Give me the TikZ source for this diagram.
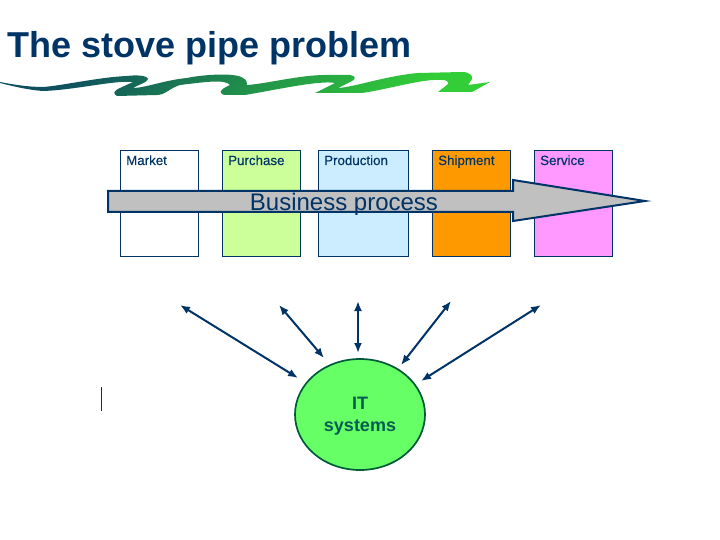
\documentclass[tikz,border=0pt]{standalone}
\usepackage{fontspec}
\setmainfont{Liberation Sans}
\newfontfamily\labelfont{Liberation Sans}[FakeBold=0.35]
\definecolor{navy}{RGB}{0,51,102}
\definecolor{grey}{RGB}{192,192,192}
\definecolor{swooshdark}{RGB}{15,80,95}
\definecolor{swooshlight}{RGB}{50,205,55}
\usetikzlibrary{arrows.meta, shapes.geometric}
\tikzset{
  stepbox/.style={draw=navy, line width=1pt, anchor=north west, minimum width=78pt, minimum height=106pt, inner sep=0pt},
  boxlabel/.style={navy, font=\labelfont\fontsize{13.33}{15}\selectfont, anchor=base west, inner sep=0pt},
  link/.style={navy, line width=2pt, {Latex[length=10pt,width=8pt]}-{Latex[length=10pt,width=8pt]}}
}
\begin{document}
\begin{tikzpicture}[x=1pt, y=-1pt]
\useasboundingbox (0, 0) rectangle (720, 540);
\node[navy, font=\bfseries\fontsize{36}{40}\selectfont, anchor=base west, inner sep=0pt] (title) at (7, 58) {The stove pipe problem};
%Swoosh
\shade[top color=swooshdark, bottom color=swooshlight, shading angle=45] (0, 82) .. controls (15, 85) and (30, 87) .. (43, 87) .. controls (60, 86) and (100, 77) .. (127, 76) .. controls (135, 75) and (147, 75) .. (148, 79) .. controls (148, 82) and (138, 85) .. (133, 88) .. controls (145, 88) and (165, 80) .. (187, 78) .. controls (200, 75) and (235, 72) .. (243, 78) .. controls (247, 80) and (247, 83) .. (247, 85) .. controls (265, 84) and (300, 75) .. (325, 75) -- (350, 75) .. controls (356, 76) and (356, 79) .. (352, 81) -- (338, 88) .. controls (355, 87) and (385, 76) .. (418, 73) -- (462, 72) .. controls (470, 72) and (473, 76) .. (472, 79) -- (468, 85) -- (490, 82) -- (472, 92) -- (438, 92) -- (448, 84) .. controls (449, 81) and (445, 80) .. (442, 80) .. controls (425, 78) and (385, 90) .. (362, 93) -- (315, 93) -- (335, 83) .. controls (320, 80) and (275, 90) .. (245, 95) -- (227, 95) .. controls (218, 95) and (218, 90) .. (230, 85) .. controls (225, 79) and (205, 82) .. (180, 85) .. controls (170, 88) and (165, 95) .. (157, 95) -- (117, 96) .. controls (113, 94) and (113, 91) .. (120, 88) -- (133, 82) .. controls (115, 80) and (75, 90) .. (43, 91) .. controls (28, 90) and (12, 86) .. (0, 83) -- cycle;
%Boxes
\node[stepbox] (market) at (120, 150) {};
\node[stepbox, fill={rgb,255:red,204;green,255;blue,153}] (purchase) at (222, 150) {};
\node[stepbox, fill={rgb,255:red,204;green,236;blue,255}, minimum width=90pt] (production) at (318, 150) {};
\node[stepbox, fill={rgb,255:red,255;green,153;blue,0}] (shipment) at (432, 150) {};
\node[stepbox, fill={rgb,255:red,255;green,153;blue,255}] (service) at (534, 150) {};
\node[boxlabel] at (126, 165) {Market};
\node[boxlabel] at (228, 165) {Purchase};
\node[boxlabel] at (324, 165) {Production};
\node[boxlabel] at (438, 165) {Shipment};
\node[boxlabel] at (540, 165) {Service};
%Arrow
\filldraw[fill=grey, draw=navy, line width=2pt, miter limit=20] (108, 191) -- (513, 191) -- (513, 180) -- (645, 201) -- (513, 221) -- (513, 212) -- (108, 212) -- cycle;
\node[navy, font=\fontsize{24}{28}\selectfont, anchor=base, inner sep=0pt] (process) at (344, 211) {Business process};
%IT systems
\node[draw=navy!70!green!80!black, line width=1.7pt, fill={rgb,255:red,102;green,255;blue,102}, ellipse, minimum width=130pt, minimum height=111pt, inner sep=0pt] (it) at (360, 414.5) {};
\node[align=center, inner sep=0pt, font=\bfseries\fontsize{18}{22}\selectfont, text=navy!80!green] (itlabel) at (360, 416) {IT\\systems};
\coordinate (m) at (180, 305);
\coordinate (pu) at (279, 305);
\coordinate (pr) at (358, 301);
\coordinate (sh) at (451, 301);
\coordinate (se) at (541, 305);
\coordinate (mend) at (298, 378);
\coordinate (puend) at (324, 358);
\coordinate (prend) at (358, 353);
\coordinate (shend) at (401, 365);
\coordinate (seend) at (421, 381);
\draw[link] (m) -- (mend);
\draw[link] (pu) -- (puend);
\draw[link] (pr) -- (prend);
\draw[link] (sh) -- (shend);
\draw[link] (se) -- (seend);
\coordinate (bartop) at (101.5, 387);
\coordinate (barbot) at (101.5, 411);
\draw[navy, line width=0.6pt] (bartop) -- (barbot);
\end{tikzpicture}
\end{document}
